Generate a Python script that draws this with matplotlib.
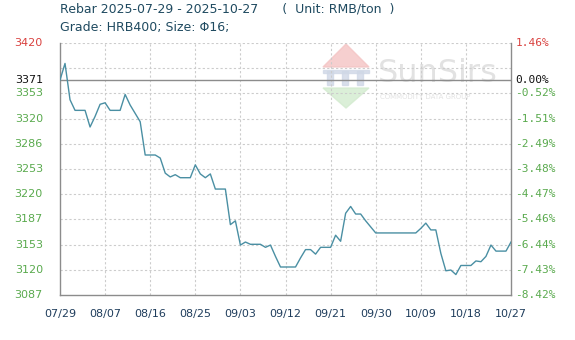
import matplotlib
matplotlib.use("Agg")
import matplotlib.pyplot as plt
import matplotlib.patches as mpatches
import numpy as np
import pandas as pd

# ---- data ----
start_date = "2025-07-29"
prices = [3371, 3393, 3345, 3331, 3331, 3331, 3309, 3323, 3339, 3341,
          3331, 3331, 3331, 3352, 3338, 3327, 3316, 3272, 3272, 3272,
          3268, 3248, 3243, 3246, 3242, 3242, 3242, 3259, 3247, 3242,
          3247, 3227, 3227, 3227, 3180, 3185, 3153, 3157, 3154, 3154,
          3154, 3150, 3153, 3138, 3124, 3124, 3124, 3124, 3136, 3147,
          3147, 3141, 3150, 3150, 3150, 3166, 3158, 3195, 3204, 3194,
          3194, 3185, 3177, 3169, 3169, 3169, 3169, 3169, 3169, 3169,
          3169, 3169, 3175, 3182, 3173, 3173, 3142, 3119, 3120, 3114,
          3126, 3126, 3126, 3132, 3131, 3138, 3153, 3145, 3145, 3145,
          3157]
base_price = 3371
y_min, y_max = 3087, 3420
left_labels = ["3087", "3120", "3153", "3187", "3220", "3253", "3286", "3320", "3353"]
right_labels = ["-8.42%", "-7.43%", "-6.44%", "-5.46%", "-4.47%", "-3.48%", "-2.49%", "-1.51%", "-0.52%"]
x_tick_labels = ["07/29", "08/07", "08/16", "08/25", "09/03", "09/12", "09/21", "09/30", "10/09", "10/18", "10/27"]

dates = pd.date_range(start_date, periods=len(prices), freq="D")
xnum = np.arange(len(prices))

fig = plt.figure(figsize=(5.75, 3.4), dpi=100)

# watermark (behind everything)
wm_ax = fig.add_axes([0, 0, 1, 1], zorder=0)
wm_ax.set_xlim(0, 575); wm_ax.set_ylim(340, 0); wm_ax.axis("off")
wm_ax.add_patch(mpatches.Polygon([[323, 67], [346, 44], [369, 67]], color="#f4c4c4", alpha=0.8))
wm_ax.add_patch(mpatches.Polygon([[323, 88], [346, 108], [369, 88]], color="#d3ebcf", alpha=0.8))
for xx in [327, 342, 357]:
    wm_ax.add_patch(mpatches.Rectangle((xx, 71), 6, 14, color="#d0d8e6", alpha=0.8))
wm_ax.add_patch(mpatches.Rectangle((323, 70), 46, 3, color="#d0d8e6", alpha=0.8))
wm_ax.text(378, 74, "SunSirs", fontsize=23, color="#e2e2e2", va="center", ha="left", family="DejaVu Sans")
wm_ax.text(380, 97, "COMMODITY DATA GROUP", fontsize=5, color="#e2e2e2", va="center", ha="left", family="DejaVu Sans")

ax = fig.add_axes([60/575, 45/340, 451/575, 252/340], zorder=2)
ax.patch.set_alpha(0)
ax.set_xlim(0, len(prices) - 1)
ax.set_ylim(y_min, y_max)

# grid
step = (y_max - y_min) / 10
grid_vals = [y_min + step * k for k in range(11)]
for gv in grid_vals[1:]:
    ax.axhline(gv, color="#cccccc", lw=0.8, ls=(0, (2, 2)), zorder=1)
xt = np.arange(0, len(prices), 9)
for x in xt[1:-1]:
    ax.axvline(x, color="#cccccc", lw=0.8, ls=(0, (2, 2)), zorder=1)

ax.axhline(base_price, color="#8c8c8c", lw=1.0, zorder=2)
ax.plot(xnum, prices, color="#4a8fa3", lw=1.0, zorder=3)

for s in ["left", "bottom", "right"]:
    ax.spines[s].set_color("#8c8c8c")
    ax.spines[s].set_linewidth(1.0)
ax.spines["top"].set_visible(False)

ax.set_xticks(xt)
ax.set_xticklabels(x_tick_labels, fontsize=8, color="#1f3d5c")
ax.tick_params(axis="x", length=0, pad=10)
ax.set_yticks([])

# left labels
trans = ax.get_yaxis_transform()
for gv, lab in zip(grid_vals[:-1], left_labels):
    ax.text(-0.038, gv, lab, transform=trans, ha="right", va="center", fontsize=8, color="#5aaa4e")
ax.text(-0.038, y_max, str(y_max), transform=trans, ha="right", va="center", fontsize=8, color="#d9413f")
ax.text(-0.038, base_price, str(base_price), transform=trans, ha="right", va="center", fontsize=8, color="#111111")
# right labels
for gv, lab in zip(grid_vals[:-1], right_labels):
    ax.text(1.01, gv, lab, transform=trans, ha="left", va="center", fontsize=8, color="#5aaa4e", family="DejaVu Sans Mono")
ax.text(1.01, y_max, "1.46%", transform=trans, ha="left", va="center", fontsize=8, color="#d9413f", family="DejaVu Sans Mono")
ax.text(1.01, base_price, "0.00%", transform=trans, ha="left", va="center", fontsize=8, color="#111111", family="DejaVu Sans Mono")

fig.text(60/575, 1 - 9/340, "Rebar 2025-07-29 - 2025-10-27      (  Unit: RMB/ton  )", fontsize=9, color="#1f4a60", va="center", ha="left")
fig.text(60/575, 1 - 28/340, "Grade: HRB400; Size: \u03a616;", fontsize=9, color="#1f4a60", va="center", ha="left")

fig.savefig("out.png", dpi=100)
